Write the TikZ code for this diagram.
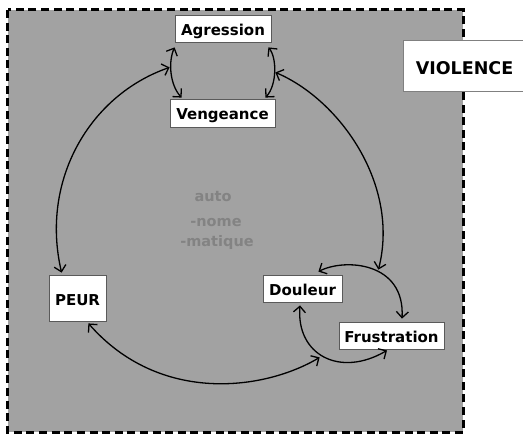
\documentclass[tikz,border=0pt]{standalone}
\usepackage{fontspec}
\setmainfont{DejaVu Sans}
\usetikzlibrary{arrows.meta,calc}
\definecolor{bg}{HTML}{A2A2A2}
\definecolor{boxline}{HTML}{5A5A5A}
\definecolor{autotext}{HTML}{838383}
\begin{document}
\begin{tikzpicture}[x=1pt,y=-1pt,
  box/.style={draw=boxline, line width=0.8pt, fill=white, inner sep=0pt,
    font=\fontsize{15}{18}\selectfont\bfseries, text height=14pt, text depth=0pt},
  bigbox/.style={box, draw=gray, font=\fontsize{17.5}{21}\selectfont\bfseries, text height=18.4pt},
  link/.style={line width=1.3pt,
    {Straight Barb[length=6pt,width=12pt]}-{Straight Barb[length=6pt,width=12pt]}},
  faint/.style={text=autotext, font=\fontsize{14.5}{17}\selectfont\bfseries,
    inner sep=0pt, anchor=base},
  frame/.style={draw=black, fill=bg, line width=3pt, dash pattern=on 8pt off 4.6pt}]
\useasboundingbox[fill=white] (0,0) rectangle (523,436);
\path[frame] (7.5,10) rectangle (463,432);

\node[bigbox, minimum width=123pt, minimum height=51pt] (vio) at (464.5,65.5) {VIOLENCE};

\node[faint] (t1) at (213,201.7) {auto};
\node[faint] (t2) at (216,226.7) {-nome};
\node[faint] (t3) at (217,246.7) {-matique};

\node[box, minimum width=96pt, minimum height=27pt] (agr) at (223,28.5) {Agression};
\node[box, minimum width=105pt, minimum height=28pt] (ven) at (222.5,113) {Vengeance};
\node[box, minimum width=57pt, minimum height=46pt] (peur) at (77.5,298) {PEUR};
\node[box, minimum width=79pt, minimum height=27pt] (dou) at (302.5,288.5) {Douleur};
\node[box, minimum width=105pt, minimum height=27pt] (fru) at (391.5,335.5) {Frustration};

\draw[link] ($(agr.south west)+(0,5)$) .. controls (168,62) and (170,85) .. ($(ven.north west)+(12,-1)$);
\draw[link] ($(agr.south east)+(-3,5)$) .. controls (277,58) and (277,85) .. ($(ven.north east)+(-10,-1)$);
\draw[link] ($(agr.south west)+(-5,25)$) .. controls (90,95) and (40,180) .. ($(peur.north west)+(13,-2)$);
\draw[link] ($(agr.south east)+(4,30)$) .. controls (340,100) and (400,185) .. ($(dou.north east)+(36,-5)$);
\draw[link] ($(peur.south east)+(-18,2)$) .. controls (160,405) and (265,390) .. ($(dou.south west)+(57,55)$);
\draw[link] ($(dou.north east)+(-24,-3)$) .. controls (345,258) and (405,262) .. ($(fru.north)+(10.5,-3)$);
\draw[link] ($(dou.south)+(-2.5,3)$) .. controls (296,355) and (340,378) .. ($(fru.south)+(-4.5,1)$);
\end{tikzpicture}
\end{document}
